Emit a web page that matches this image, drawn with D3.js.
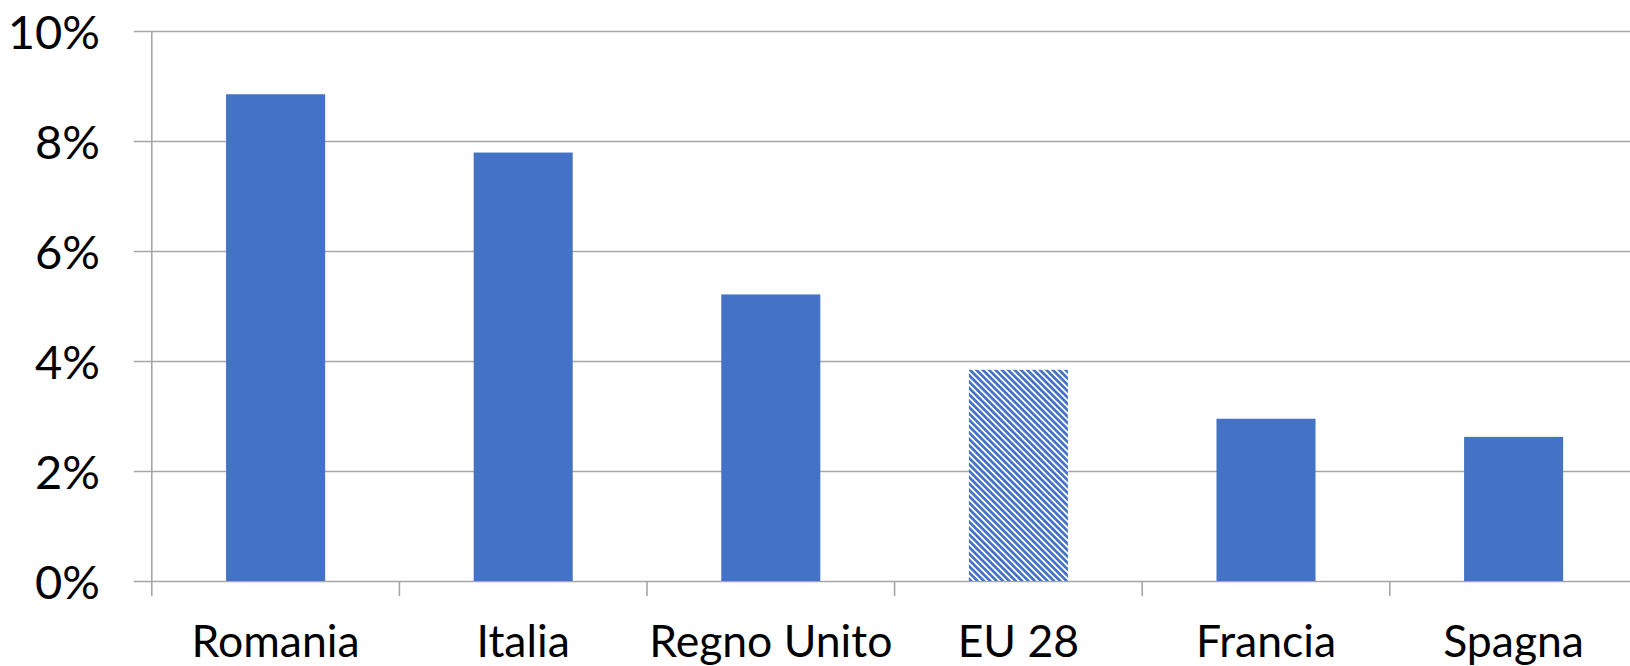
<!DOCTYPE html>
<html>
<head>
<meta charset="utf-8">
<script src="https://cdn.jsdelivr.net/npm/d3@7"></script>
<style>
  html, body { margin: 0; padding: 0; background: #ffffff; overflow: hidden; }
  svg { display: block; }
  text { font-family: Lato, "Open Sans", sans-serif; fill: #000000; }
</style>
</head>
<body>
<svg id="chart" width="1630" height="666"></svg>
<script>
// ---- data ----
const categories = ["Romania", "Italia", "Regno Unito", "EU 28", "Francia", "Spagna"];
const values = [0.0885, 0.0779, 0.0521, 0.0384, 0.0295, 0.0262];
const highlighted = ["EU 28"];
const yTicks = [0, 0.02, 0.04, 0.06, 0.08, 0.10];

// ---- layout ----
const W = 1630, H = 666;
const plotLeft = 151.8, plotRight = 1637.4, plotTop = 31, plotBottom = 581;
const barColor = "#4472C4";
const gridColor = "#a6a6a6";
const xFontSize = 44.5;
const yFontSize = 47;

const svg = d3.select("#chart");

const x = d3.scaleBand().domain(categories).range([plotLeft, plotRight]).padding(0);
const y = d3.scaleLinear().domain([0, 0.10]).range([plotBottom, plotTop]);
const barFrac = 0.4;

// hatch pattern for EU 28
const defs = svg.append("defs");
const P = 4.5;
const pat = defs.append("pattern")
  .attr("id", "hatch")
  .attr("patternUnits", "userSpaceOnUse")
  .attr("width", P).attr("height", P)
  .attr("patternTransform", "rotate(-45)");
pat.append("rect").attr("width", P).attr("height", P).attr("fill", "#ffffff");
pat.append("rect").attr("width", P * 0.55).attr("height", P).attr("fill", barColor)
  .attr("shape-rendering", "crispEdges");

// gridlines (with left tick extension)
const yAxis = d3.axisLeft(y).tickValues(yTicks).tickFormat(d3.format(".0%"))
  .tickSize(-(W - plotLeft)).tickPadding(0);
const gY = svg.append("g").attr("transform", `translate(${plotLeft},0)`).call(yAxis);
gY.select(".domain").remove();
gY.selectAll(".tick line")
  .attr("x1", -18)
  .attr("stroke", gridColor).attr("stroke-width", 1.4);
gY.selectAll(".tick text")
  .attr("x", 100 - plotLeft)
  .attr("dy", null)
  .attr("y", 17)
  .attr("text-anchor", "end")
  .style("font-size", yFontSize + "px")
  .style("font-family", "Lato, 'Open Sans', sans-serif")
  .attr("fill", "#000");

// vertical axis line
svg.append("line")
  .attr("x1", plotLeft).attr("x2", plotLeft)
  .attr("y1", y(0.10)).attr("y2", plotBottom)
  .attr("stroke", gridColor).attr("stroke-width", 1.6);

// bars
svg.append("g").selectAll("rect").data(categories).join("rect")
  .attr("x", (d) => x(d) + x.bandwidth() * (1 - barFrac) / 2)
  .attr("width", x.bandwidth() * barFrac)
  .attr("y", (d, i) => y(values[i]))
  .attr("height", (d, i) => y(0) - y(values[i]))
  .attr("fill", (d) => highlighted.includes(d) ? "url(#hatch)" : barColor);

// x axis ticks at category boundaries
const boundaries = categories.map(c => x(c)).concat([x.range()[1]]);
svg.append("g").selectAll("line").data(boundaries).join("line")
  .attr("x1", d => d).attr("x2", d => d)
  .attr("y1", plotBottom).attr("y2", plotBottom + 15)
  .attr("stroke", gridColor).attr("stroke-width", 1.6);

// category labels
svg.append("g").selectAll("text").data(categories).join("text")
  .attr("x", d => x(d) + x.bandwidth() / 2)
  .attr("y", 657)
  .attr("text-anchor", "middle")
  .style("font-size", xFontSize + "px")
  .text(d => d);
</script>
</body>
</html>
